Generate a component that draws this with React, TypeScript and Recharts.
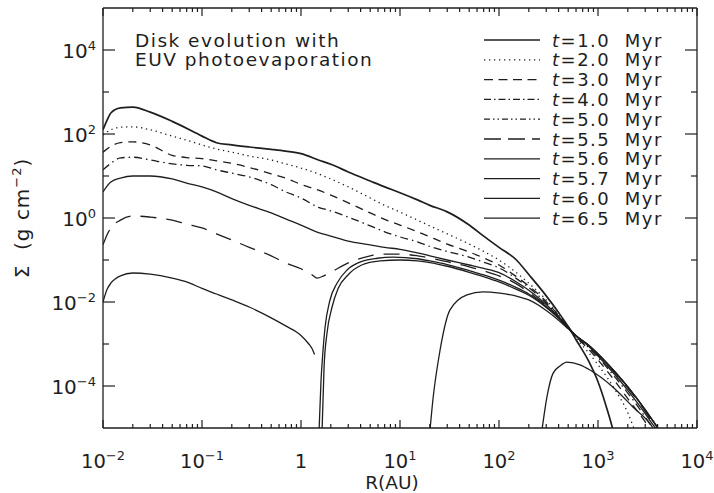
import React from 'react';
import { LineChart, Line, XAxis, YAxis, Legend } from 'recharts';

type Pt = [number, number | null];

// Surface density Σ (g cm^-2) against radius R (AU), one array per snapshot
const sigma10: Pt[] = [
  [0.01, 126], [0.011, 214], [0.012, 316], [0.015, 417], [0.02, 437], [0.03, 331], [0.05, 200],
  [0.08, 117], [0.1, 89], [0.14, 62], [0.2, 55], [0.3, 49], [0.5, 43], [0.7, 39], [1, 34],
  [1.5, 24], [2, 19], [3, 12.5], [5, 7.6], [7, 5.5], [10, 4.0], [15, 2.7], [20, 2.0], [30, 1.4],
  [50, 0.68], [70, 0.37], [100, 0.2], [150, 0.1], [200, 0.045], [300, 0.014], [400, 0.0056],
  [500, 0.0026], [600, 0.00126], [800, 4.0e-4], [1000, 1.26e-4], [1200, 3.5e-5], [1400, 1.0e-5],
  [1500, 5e-6],
];

const sigma20: Pt[] = [
  [0.01, 95], [0.012, 126], [0.015, 145], [0.02, 148], [0.03, 126], [0.05, 89], [0.08, 65],
  [0.1, 55], [0.14, 44], [0.2, 37], [0.3, 30], [0.5, 24], [0.7, 19.5], [1, 15.5], [1.5, 11.2],
  [2, 8.5], [3, 5.5], [5, 3.0], [7, 2.0], [10, 1.38], [15, 0.89], [20, 0.65], [30, 0.42],
  [50, 0.24], [70, 0.16], [100, 0.1], [150, 0.05], [200, 0.028], [300, 0.0112], [400, 0.005],
  [500, 0.0025], [600, 0.00138], [800, 6.3e-4], [1000, 3.2e-4], [1500, 7.9e-5], [2000, 2.3e-5],
  [2300, 1.0e-5], [2500, 6e-6],
];

const sigma30: Pt[] = [
  [0.01, 37], [0.012, 51], [0.015, 62], [0.02, 65], [0.03, 55], [0.05, 31], [0.07, 27.5],
  [0.1, 26], [0.14, 23], [0.2, 20], [0.3, 16], [0.5, 11.2], [0.7, 8.9], [1, 6.3], [1.5, 4.6],
  [2, 3.5], [3, 2.3], [5, 1.32], [7, 0.93], [10, 0.68], [15, 0.47], [20, 0.355], [30, 0.24],
  [50, 0.155], [70, 0.112], [100, 0.076], [150, 0.04], [200, 0.024], [300, 0.0102], [400, 0.0048],
  [500, 0.0025], [600, 0.00148], [800, 7.6e-4], [1000, 4.2e-4], [1500, 1.26e-4], [2000, 5e-5],
  [3000, 1.4e-5], [3300, 1.0e-5], [3500, 7e-6],
];

const sigma40: Pt[] = [
  [0.01, 14], [0.012, 20], [0.015, 27], [0.02, 28], [0.03, 24], [0.05, 19.5], [0.07, 18],
  [0.1, 17.4], [0.14, 14], [0.2, 11.7], [0.3, 9.5], [0.5, 6.2], [0.7, 4.2], [1, 3.0], [1.5, 1.8],
  [2, 1.48], [3, 1.05], [5, 0.65], [7, 0.47], [10, 0.355], [15, 0.27], [20, 0.21], [30, 0.16],
  [50, 0.117], [70, 0.089], [100, 0.065], [150, 0.036], [200, 0.022], [300, 0.0095], [400, 0.0046],
  [500, 0.0025], [600, 0.0015], [800, 8.3e-4], [1000, 4.8e-4], [1500, 1.58e-4], [2000, 6.8e-5],
  [3000, 1.8e-5], [3500, 1.0e-5], [3700, 7e-6],
];

const sigma50: Pt[] = [
  [0.01, 4.2], [0.012, 7.2], [0.015, 8.9], [0.02, 10], [0.03, 10], [0.05, 8.5], [0.07, 6.8],
  [0.1, 5.5], [0.14, 4.2], [0.2, 2.9], [0.3, 2.0], [0.5, 1.32], [0.7, 0.95], [1, 0.68],
  [1.5, 0.45], [2, 0.37], [3, 0.28], [5, 0.23], [7, 0.2], [10, 0.18], [15, 0.148], [20, 0.126],
  [30, 0.1], [50, 0.076], [70, 0.063], [100, 0.05], [150, 0.03], [200, 0.019], [300, 0.0087],
  [400, 0.0044], [500, 0.0025], [600, 0.00155], [800, 8.9e-4], [1000, 5.2e-4], [1500, 1.8e-4],
  [2000, 7.9e-5], [3000, 2.2e-5], [3500, 1.3e-5], [3800, 1.0e-5], [4000, 8e-6],
];

const sigma55: Pt[] = [
  [0.01, 0.23], [0.011, 0.4], [0.012, 0.58], [0.015, 0.89], [0.02, 1.12], [0.03, 1.05],
  [0.05, 0.89], [0.07, 0.72], [0.1, 0.58], [0.14, 0.42], [0.2, 0.3], [0.3, 0.2], [0.5, 0.126],
  [0.7, 0.085], [1, 0.062], [1.3, 0.044], [1.45, 0.037], [1.7, 0.042], [2, 0.051], [3, 0.085],
  [5, 0.126], [7, 0.138], [10, 0.138], [15, 0.126], [20, 0.112], [30, 0.091], [50, 0.069],
  [70, 0.055], [100, 0.042], [150, 0.027], [200, 0.017], [300, 0.0081], [400, 0.0043],
  [500, 0.00245], [600, 0.00158], [800, 9.3e-4], [1000, 5.6e-4], [1500, 2.0e-4], [2000, 8.9e-5],
  [3000, 2.5e-5], [3500, 1.45e-5], [4000, 1.0e-5], [4300, 7e-6],
];

// inner disk drains and a gap opens near 1.4 AU
const sigma56: Pt[] = [
  [0.01, 0.01], [0.011, 0.02], [0.012, 0.028], [0.015, 0.042], [0.02, 0.049], [0.03, 0.046],
  [0.05, 0.037], [0.07, 0.03], [0.1, 0.021], [0.14, 0.0155], [0.2, 0.0112], [0.3, 0.0076],
  [0.5, 0.0042], [0.7, 0.0027], [1, 0.0016], [1.2, 0.001], [1.3, 7.6e-4], [1.37, 5.6e-4],
  [1.45, null],
  [1.52, 8e-6], [1.59, 1.2e-4], [1.67, 7.2e-4], [1.75, 0.0025], [1.96, 0.011], [2.31, 0.028],
  [2.92, 0.058], [3.94, 0.089], [5.9, 0.11], [8.5, 0.117], [15, 0.107], [20, 0.095], [30, 0.078],
  [50, 0.056], [70, 0.044], [100, 0.033], [150, 0.022], [200, 0.0155], [300, 0.0078],
  [400, 0.0042], [500, 0.00245], [600, 0.00158], [800, 9.5e-4], [1000, 5.8e-4], [1500, 2.1e-4],
  [2000, 9.5e-5], [3000, 2.7e-5], [3500, 1.6e-5], [4000, 1.0e-5], [4300, 7e-6],
];

const sigma57: Pt[] = [
  [1.63, 8e-6], [1.71, 2.8e-4], [1.83, 0.0018], [2.06, 0.0076], [2.37, 0.021], [2.98, 0.044],
  [4.1, 0.076], [6.3, 0.095], [10, 0.1], [15, 0.095], [20, 0.087], [30, 0.071], [50, 0.051],
  [70, 0.04], [100, 0.03], [150, 0.02], [200, 0.0145], [300, 0.0074], [400, 0.0041],
  [500, 0.0024], [600, 0.00158], [800, 9.5e-4], [1000, 5.8e-4], [1500, 2.1e-4], [2000, 9.5e-5],
  [3000, 2.7e-5], [3500, 1.6e-5], [4000, 1.0e-5], [4300, 7e-6],
];

const sigma60: Pt[] = [
  [20, 8e-6], [21.5, 4.7e-5], [25.4, 7.2e-4], [32, 0.0065], [47.5, 0.0148], [69, 0.0174],
  [102, 0.0162], [150, 0.0138], [200, 0.0112], [300, 0.0063], [400, 0.0037], [500, 0.0023],
  [600, 0.00155], [800, 9.5e-4], [1000, 5.8e-4], [1500, 2.1e-4], [2000, 9.5e-5], [3000, 2.7e-5],
  [3500, 1.6e-5], [4000, 1.0e-5], [4300, 7e-6],
];

const sigma65: Pt[] = [
  [270, 8e-6], [305, 5.5e-5], [351, 2.0e-4], [413, 3.0e-4], [486, 3.7e-4], [658, 3.2e-4],
  [830, 2.4e-4], [1410, 9.5e-5], [2240, 3.2e-5], [3600, 1.0e-5], [3800, 8e-6],
];

const radiusDecades = [1e-2, 1e-1, 1, 1e1, 1e2, 1e3, 1e4];
const minorSteps = [2, 3, 4, 5, 6, 7, 8, 9];
const sigmaDecades = [1e-4, 1e-3, 1e-2, 1e-1, 1, 1e1, 1e2, 1e3, 1e4];

const xTicks = [
  ...radiusDecades,
  ...radiusDecades.slice(0, -1).flatMap((d) => minorSteps.map((m) => m * d)),
].sort((a, b) => a - b);

const INK = '#1e1e1e';
const FONT = '"DejaVu Sans", "Liberation Sans", sans-serif';

type Series = {
  time: string;
  points: Pt[];
  dash?: string;
  legendDash?: string;
  width?: number;
};

const series: Series[] = [
  { time: '1.0', points: sigma10, width: 1.7 },
  { time: '2.0', points: sigma20, dash: '1.3 3.7' },
  { time: '3.0', points: sigma30, dash: '8 6', legendDash: '9 5.5' },
  { time: '4.0', points: sigma40, dash: '8 4 1.5 4', legendDash: '7 3 1.5 3' },
  { time: '5.0', points: sigma50, legendDash: '6 3 1.5 3 1.5 3' },
  { time: '5.5', points: sigma55, dash: '16 10', legendDash: '17 7' },
  { time: '5.6', points: sigma56 },
  { time: '5.7', points: sigma57 },
  { time: '6.0', points: sigma60 },
  { time: '6.5', points: sigma65 },
];

const exponentText = (e: number) => (e < 0 ? `\u2212${-e}` : `${e}`);

const isDecade = (v: number) => {
  const l = Math.log10(v);
  return Math.abs(l - Math.round(l)) < 1e-9;
};

const BottomTick = ({ x, y, payload }: any) => {
  const v = payload.value;
  const major = isDecade(v);
  const e = Math.round(Math.log10(v));
  return (
    <g>
      <line x1={x} x2={x} y1={y} y2={y - (major ? 8 : 4)} stroke={INK} strokeWidth={1.2} />
      {major && (
        <text x={x} y={y + 39.5} textAnchor="middle" fontFamily={FONT} fontSize={19.5} fill={INK}>
          {e === 0 ? '1' : '10'}
          {e !== 0 && (
            <tspan dy={-8} fontSize={13}>
              {exponentText(e)}
            </tspan>
          )}
        </text>
      )}
    </g>
  );
};

const TopTick = ({ x, y, payload }: any) => {
  const major = isDecade(payload.value);
  return <line x1={x} x2={x} y1={y} y2={y + (major ? 8 : 4)} stroke={INK} strokeWidth={1.2} />;
};

const LeftTick = ({ x, y, payload }: any) => {
  const e = Math.round(Math.log10(payload.value));
  const labelled = e % 2 === 0;
  return (
    <g>
      <line x1={x} x2={x + (labelled ? 12 : 6)} y1={y} y2={y} stroke={INK} strokeWidth={1.2} />
      {labelled && (
        <text x={x - 7} y={y + 7.5} textAnchor="end" fontFamily={FONT} fontSize={20} fill={INK}>
          10
          <tspan dy={-8} fontSize={13}>
            {exponentText(e)}
          </tspan>
        </text>
      )}
    </g>
  );
};

const RightTick = ({ x, y, payload }: any) => {
  const e = Math.round(Math.log10(payload.value));
  return <line x1={x} x2={x - (e % 2 === 0 ? 12 : 6)} y1={y} y2={y} stroke={INK} strokeWidth={1.2} />;
};

const renderRadiusLabel = () => (
  <text x={392} y={488.5} textAnchor="middle" fontFamily={FONT} fontSize={18.5} fill={INK}>
    R(AU)
  </text>
);

const renderSigmaLabel = () => (
  <text
    transform="translate(29 218) rotate(-90)"
    textAnchor="middle"
    fontFamily={FONT}
    fontSize={20}
    fill={INK}
    letterSpacing={1}
    style={{ whiteSpace: 'pre' }}
  >
    {'\u03A3  (g cm'}
    <tspan dy={-8} fontSize={13}>
      {'\u22122'}
    </tspan>
    <tspan dy={8}>)</tspan>
  </text>
);

const renderLegend = () => (
  <svg width={230} height={210}>
    {series.map((s, i) => {
      const cy = 12 + i * 19.8;
      return (
        <g key={s.time}>
          <line
            x1={4}
            x2={60}
            y1={cy}
            y2={cy}
            stroke={INK}
            strokeWidth={1.3}
            strokeDasharray={s.legendDash ?? s.dash}
          />
          <text
            x={72}
            y={cy + 6.5}
            fontFamily={FONT}
            fontSize={18}
            letterSpacing={1.5}
            fill={INK}
            style={{ whiteSpace: 'pre' }}
          >
            <tspan fontStyle="italic">t</tspan>
            {`=${s.time}  Myr`}
          </text>
        </g>
      );
    })}
  </svg>
);

const axisStroke = { stroke: INK, strokeWidth: 1.3 };

export default function App() {
  return (
    <div style={{ position: 'absolute', left: 0, top: 0, width: 714, height: 493, background: '#fff' }}>
      <LineChart width={714} height={493} margin={{ top: 7, right: 16, bottom: 0, left: 0 }}>
        <XAxis
          dataKey="r"
          type="number"
          scale="log"
          domain={[1e-2, 1e4]}
          allowDataOverflow
          ticks={xTicks}
          interval={0}
          tickSize={0}
          tickMargin={0}
          tickLine={false}
          tick={BottomTick}
          axisLine={axisStroke}
          height={65}
          label={renderRadiusLabel}
        />
        <XAxis
          xAxisId="top"
          orientation="top"
          dataKey="r"
          type="number"
          scale="log"
          domain={[1e-2, 1e4]}
          allowDataOverflow
          ticks={xTicks}
          interval={0}
          tickSize={0}
          tickMargin={0}
          tickLine={false}
          tick={TopTick}
          axisLine={axisStroke}
          height={1}
        />
        <YAxis
          type="number"
          scale="log"
          domain={[1e-5, 1e5]}
          allowDataOverflow
          ticks={sigmaDecades}
          interval={0}
          tickSize={0}
          tickMargin={0}
          tickLine={false}
          tick={LeftTick}
          axisLine={axisStroke}
          width={103}
          label={renderSigmaLabel}
        />
        <YAxis
          yAxisId="right"
          orientation="right"
          type="number"
          scale="log"
          domain={[1e-5, 1e5]}
          allowDataOverflow
          ticks={sigmaDecades}
          interval={0}
          tickSize={0}
          tickMargin={0}
          tickLine={false}
          tick={RightTick}
          axisLine={axisStroke}
          width={1}
        />
        <Legend
          layout="vertical"
          align="center"
          verticalAlign="middle"
          content={renderLegend}
          wrapperStyle={{ left: 480, top: 28, width: 230, height: 210 }}
        />
        {series.map((s) => (
          <Line
            key={s.time}
            name={`t=${s.time} Myr`}
            data={s.points.map(([r, v]) => ({ r, s: v }))}
            dataKey="s"
            type="monotone"
            stroke={INK}
            strokeWidth={s.width ?? 1.3}
            strokeDasharray={s.dash}
            dot={false}
            activeDot={false}
            connectNulls={false}
            isAnimationActive={false}
          />
        ))}
      </LineChart>
      <svg
        width={714}
        height={493}
        style={{ position: 'absolute', left: 0, top: 0, pointerEvents: 'none' }}
      >
        <text x={135} y={47} fontFamily={FONT} fontSize={18.5} letterSpacing={1.5} fill={INK}>
          Disk evolution with
        </text>
        <text x={135} y={66} fontFamily={FONT} fontSize={18.5} letterSpacing={1.5} fill={INK}>
          EUV photoevaporation
        </text>
      </svg>
    </div>
  );
}
